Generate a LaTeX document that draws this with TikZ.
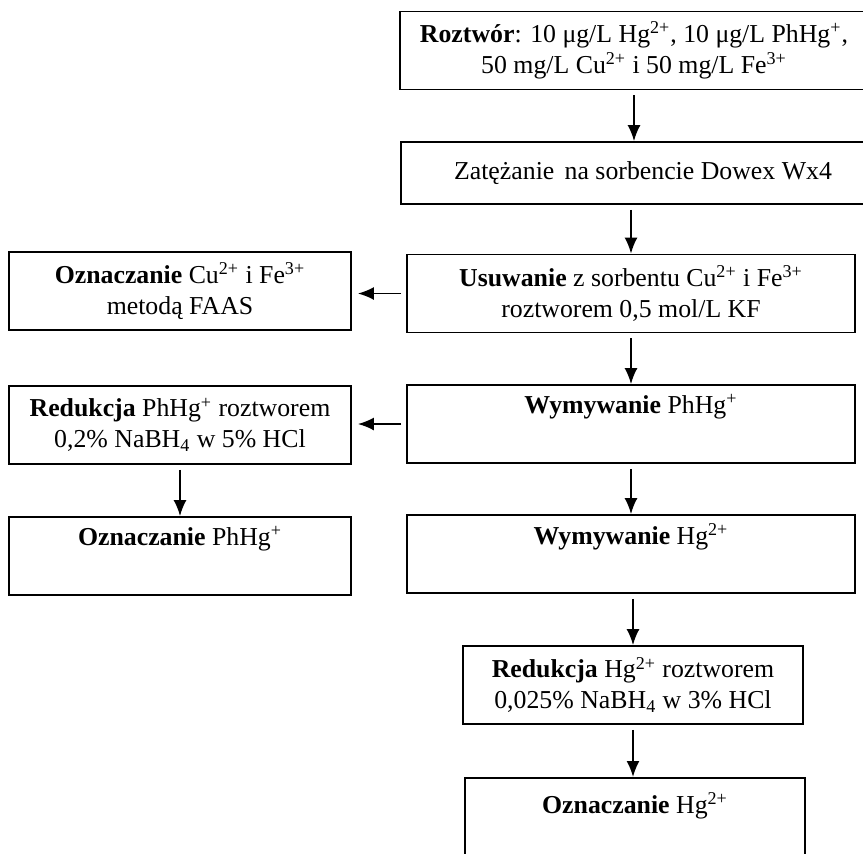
\documentclass[tikz,border=0pt]{standalone}
\usepackage{fontspec}
\setmainfont{Liberation Serif}
\usetikzlibrary{arrows.meta}
\tikzset{
  stepbox/.style={ % one stage of the procedure
    draw, rectangle, line width=0.9pt,
    align=center, inner sep=0pt, text=black,
    font=\fontsize{12.9}{15.5}\selectfont
  },
  mainbox/.style={stepbox, minimum width=224pt, minimum height=39pt},
  sidebox/.style={stepbox, minimum width=171pt, minimum height=39pt},
  flow/.style={ % arrow between two stages
    -{Latex[length=8pt,width=6.5pt]}, line width=0.9pt, shorten <=2.5pt
  }
}

\begin{document}
\begin{tikzpicture}[x=0.5pt, y=-0.5pt]
  \path[use as bounding box, clip] (0,0) rectangle (863,853);

  % main column
  \node[mainbox, minimum width=234pt] (sol) at (634,50.5)
    {\textbf{Roztwór}: 10 μg/L Hg\textsuperscript{2+}, 10 μg/L PhHg\textsuperscript{+},\\
     50 mg/L Cu\textsuperscript{2+} i 50 mg/L Fe\textsuperscript{3+}};
  \node[mainbox, minimum width=242pt, minimum height=31pt] (zat) at (643,173)
    {Zatężanie\hspace{0.15em} na sorbencie Dowex Wx4};
  \node[mainbox] (usu) at (631,293.5)
    {\textbf{Usuwanie} z sorbentu Cu\textsuperscript{2+} i Fe\textsuperscript{3+}\\
     roztworem 0,5 mol/L KF};
  \node[mainbox] (wymph) at (631,424)
    {\textbf{Wymywanie} PhHg\textsuperscript{+}\\\strut};
  \node[mainbox] (wymhg) at (631,554)
    {\textbf{Wymywanie} Hg\textsuperscript{2+}\\\strut};
  \node[stepbox, minimum width=170pt, minimum height=39pt] (redhg) at (633,685)
    {\textbf{Redukcja} Hg\textsuperscript{2+} roztworem\\
     0,025\% NaBH\textsubscript{4} w 3\% HCl};
  \node[stepbox, minimum width=170pt, minimum height=45pt, anchor=north] (oznhg) at (635,777)
    {\textbf{Oznaczanie} Hg\textsuperscript{2+}\\\strut};

  % left column
  \node[sidebox] (ozncu) at (180,291)
    {\textbf{Oznaczanie} Cu\textsuperscript{2+} i Fe\textsuperscript{3+}\\
     metodą FAAS};
  \node[sidebox] (redph) at (180,425)
    {\textbf{Redukcja} PhHg\textsuperscript{+} roztworem\\
     0,2\% NaBH\textsubscript{4} w 5\% HCl};
  \node[sidebox] (oznph) at (180,556)
    {\textbf{Oznaczanie} PhHg\textsuperscript{+}\\\strut};

  % arrows
  \draw[flow] (sol.south) -- (zat.north -| sol.south);
  \draw[flow] (zat.south -| usu.north) -- (usu.north);
  \draw[flow] (usu.south) -- (wymph.north);
  \draw[flow] (wymph.south) -- (wymhg.north);
  \draw[flow] (wymhg.south -| redhg.north) -- (redhg.north);
  \draw[flow] (redhg.south) -- (oznhg.north -| redhg.south);
  \draw[flow, shorten >=3pt] (usu.west) -- (usu.west -| ozncu.east);
  \draw[flow, shorten >=3pt] (wymph.west) -- (wymph.west -| redph.east);
  \draw[flow] (redph.south) -- (oznph.north);
\end{tikzpicture}
\end{document}
